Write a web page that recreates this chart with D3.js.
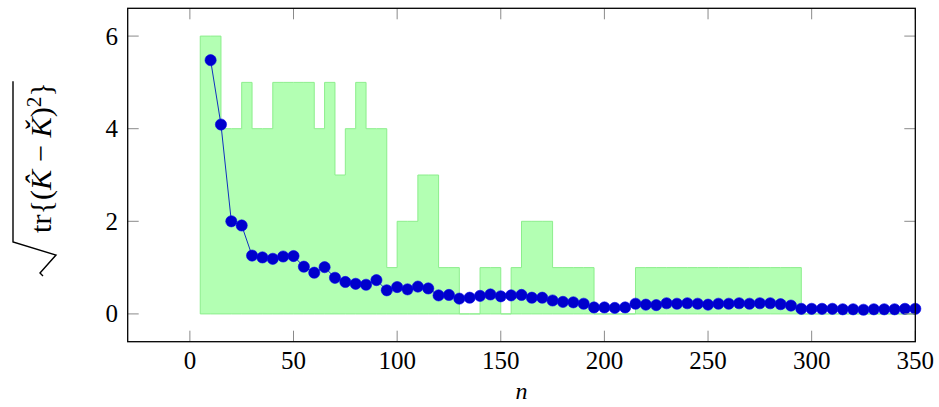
<!DOCTYPE html>
<html><head><meta charset="utf-8">
<script src="https://cdn.jsdelivr.net/npm/d3@7"></script>
<style>body{margin:0;background:#fff}svg{display:block}
svg text{font-family:"Liberation Serif","Times New Roman",serif;}
</style>
</head><body>
<svg id="c" width="939" height="407"></svg>
<script>
const nPts = [10,15,20,25,30,35,40,45,50,55,60,65,70,75,80,85,90,95,100,105,110,115,120,125,130,135,140,145,150,155,160,165,170,175,180,185,190,195,200,205,210,215,220,225,230,235,240,245,250,255,260,265,270,275,280,285,290,295,300,305,310,315,320,325,330,335,340,345,350];
const errVals = [5.48,4.09,2.00,1.91,1.26,1.22,1.19,1.24,1.25,1.02,0.89,1.01,0.78,0.69,0.65,0.63,0.73,0.51,0.58,0.53,0.59,0.55,0.40,0.41,0.33,0.35,0.39,0.42,0.38,0.40,0.41,0.35,0.35,0.29,0.26,0.25,0.22,0.14,0.14,0.13,0.14,0.22,0.20,0.19,0.23,0.22,0.23,0.22,0.20,0.22,0.22,0.23,0.22,0.23,0.23,0.21,0.18,0.11,0.11,0.11,0.11,0.10,0.10,0.09,0.10,0.10,0.10,0.11,0.11];
const binStarts = [5,10,15,20,25,30,35,40,45,50,55,60,65,70,75,80,85,90,95,100,105,110,115,120,125,130,135,140,145,150,155,160,165,170,175,180,185,190,195,200,205,210,215,220,225,230,235,240,245,250,255,260,265,270,275,280,285,290,295,300,305,310,315,320,325,330,335,340,345];
const binVals = [6,6,4,4,5,4,4,5,5,5,5,4,5,3,4,5,4,4,1,2,2,3,3,1,1,0,0,1,1,0,1,2,2,2,1,1,1,1,0,0,0,0,1,1,1,1,1,1,1,1,1,1,1,1,1,1,1,1,0,0,0,0,0,0,0,0,0,0,0];
const binEnd = 350;
const xTicks = [0,50,100,150,200,250,300,350];
const yTicks = [0,2,4,6];
const xDomain = [-30,350], yDomain = [-0.6,6.6];

const svg = d3.select('#c');
const L=127.7, R=915.3, T=8.3, B=341.7;
const x = d3.scaleLinear().domain(xDomain).range([L,R]);
const y = d3.scaleLinear().domain(yDomain).range([B,T]);

const steps = binStarts.map((n,i)=>({n, v:binVals[i]}));
steps.push({n:binEnd, v:binVals[binVals.length-1]});
const area = d3.area().curve(d3.curveStepAfter).x(d=>x(d.n)).y0(y(0)).y1(d=>y(d.v));
svg.append('path').attr('d', area(steps)+'Z')
  .attr('fill','rgb(179,255,179)').attr('stroke','rgb(140,238,140)').attr('stroke-width',1);

const pts = nPts.map((n,i)=>({n, v:errVals[i]}));
svg.append('path').attr('d', d3.line().x(d=>x(d.n)).y(d=>y(d.v))(pts))
  .attr('fill','none').attr('stroke','#1030c0').attr('stroke-width',1);
svg.append('g').selectAll('circle').data(pts).join('circle')
  .attr('cx',d=>x(d.n)).attr('cy',d=>y(d.v)).attr('r',5.6)
  .attr('fill','#0000cc').attr('stroke','#0000ee').attr('stroke-width',0.6);

const tk = 11, tcol = '#8a8a8a', fs = 25;
const gx = svg.append('g');
xTicks.forEach(t=>{
  gx.append('line').attr('x1',x(t)).attr('x2',x(t)).attr('y1',B).attr('y2',B-tk).attr('stroke',tcol);
  gx.append('line').attr('x1',x(t)).attr('x2',x(t)).attr('y1',T).attr('y2',T+tk).attr('stroke',tcol);
  gx.append('text').attr('x',x(t)).attr('y',369).attr('text-anchor','middle')
    .attr('font-size',fs).text(t);
});
const gy = svg.append('g');
yTicks.forEach(t=>{
  gy.append('line').attr('x1',L).attr('x2',L+tk).attr('y1',y(t)).attr('y2',y(t)).attr('stroke',tcol);
  gy.append('line').attr('x1',R).attr('x2',R-tk).attr('y1',y(t)).attr('y2',y(t)).attr('stroke',tcol);
  gy.append('text').attr('x',118).attr('y',y(t)).attr('dy','0.34em').attr('text-anchor','end')
    .attr('font-size',fs).text(t);
});

svg.append('rect').attr('x',L).attr('y',T).attr('width',R-L).attr('height',B-T)
  .attr('fill','none').attr('stroke','#000').attr('stroke-width',1.3);

svg.append('text').attr('x',(L+R)/2).attr('y',399).attr('text-anchor','middle')
  .attr('font-style','italic').attr('font-size',24).text('n');

// y label: sqrt(tr{(K^ - Kv)^2})
const gl = svg.append('g').attr('transform','translate(41,173) rotate(-90)');
const tx = gl.append('text').attr('x',-60).attr('y',10).attr('font-size',24);
tx.append('tspan').text('tr{(');
tx.append('tspan').attr('font-style','italic').text('K\u0302');
tx.append('tspan').text(' \u2212 ');
tx.append('tspan').attr('font-style','italic').text('\u01E8');
tx.append('tspan').text(')');
const sup = tx.append('tspan').attr('dy',-10).attr('font-size',17).text('2');
tx.append('tspan').attr('dy',10).text('}');
const target = 151;
let tl = tx.node().getComputedTextLength();
const nf = 24*target/tl;
tx.attr('font-size',nf); sup.attr('font-size',nf*0.7);
tl = tx.node().getComputedTextLength();
const endX = -60 + tl + 1;
gl.append('path').attr('d',`M-103,2 L-100,-1 L-82,15 L-69,-28 L${endX},-28`)
  .attr('fill','none').attr('stroke','#000').attr('stroke-width',1.4).attr('stroke-linejoin','miter');
</script>
</body></html>
